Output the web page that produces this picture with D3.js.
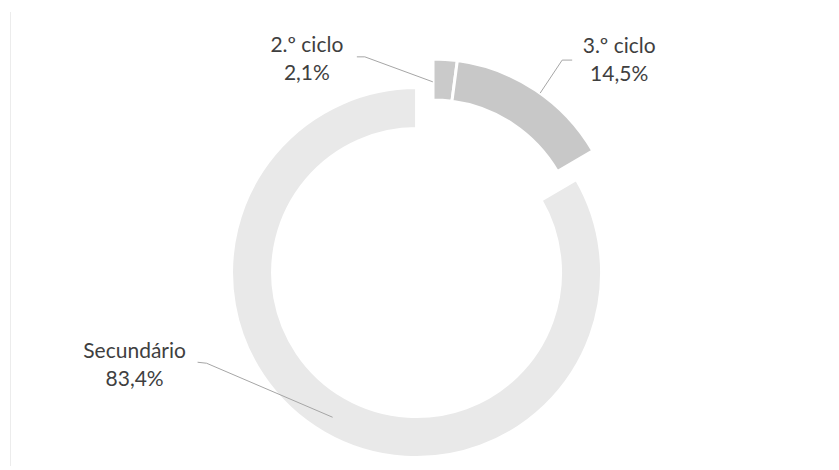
<!DOCTYPE html>
<html>
<head>
<meta charset="utf-8">
<script src="https://cdn.jsdelivr.net/npm/d3@7/dist/d3.min.js"></script>
<style>
  body { margin: 0; background: #fff; }
  svg { display: block; }
  text { font-family: Lato, "Open Sans", sans-serif; fill: #3f3f3f; }
</style>
</head>
<body>
<svg id="chart"></svg>
<script>
// Data (percent of total)
const categories = ["2.º ciclo", "3.º ciclo", "Secundário"];
const values = [2.1, 14.5, 83.4];
const valueLabels = ["2,1%", "14,5%", "83,4%"];

const width = 839;
const height = 470;
const cx = 433, cy = 244;
const outerR = 185, innerR = 144;

const color = d3.scaleOrdinal()
    .domain(categories)
    .range(["#cacaca", "#c8c8c8", "#e9e9e9"]);

// Secundário is pulled out of the ring in Excel ("point explosion")
const explode = d3.scaleOrdinal().domain(categories).range([0, 0, 33]);

// Label placement relative to each slice centroid: text (dx, dy) and leader elbow
const labelOffset = {
    "2.º ciclo": { tx: -137, ty: -28, line: [[-87, -23], [-79, -23], [-11, 2]] },
    "3.º ciclo": { tx: 95, ty: -54, line: [[48, -47], [38, -47], [16, -14]] },
    "Secundário": { tx: -200, ty: -57, line: [[-137, -53], [-128, -52], [-2, 2]] }
};

const svg = d3.select("#chart").attr("width", width).attr("height", height);

// faint chart-area border on the left
svg.append("line")
    .attr("x1", 10.5).attr("x2", 10.5).attr("y1", 12).attr("y2", 466)
    .attr("stroke", "#ececec").attr("stroke-width", 1);

const pie = d3.pie().sort(null).value((d) => d.value);
const arc = d3.arc().innerRadius(innerR).outerRadius(outerR);

const data = categories.map((c, i) => ({ name: c, value: values[i], label: valueLabels[i] }));
const arcs = pie(data);

function shift(d) {
    const mid = (d.startAngle + d.endAngle) / 2;
    const e = explode(d.data.name);
    return [Math.sin(mid) * e, -Math.cos(mid) * e];
}

const g = svg.append("g").attr("transform", `translate(${cx},${cy})`);

g.selectAll("path.slice")
    .data(arcs)
    .enter()
    .append("path")
    .attr("class", "slice")
    .attr("d", arc)
    .attr("transform", (d) => `translate(${shift(d)})`)
    .attr("fill", (d) => color(d.data.name))
    .attr("stroke", "#fff")
    .attr("stroke-width", 3);

// Leader lines and labels
arcs.forEach((d) => {
    const [sx, sy] = shift(d);
    const [mx, my] = arc.centroid(d);
    const px = mx + sx, py = my + sy;
    const o = labelOffset[d.data.name];

    g.append("path")
        .attr("d", d3.line()(o.line.map(([x, y]) => [px + x, py + y])))
        .attr("fill", "none")
        .attr("stroke", "#a6a6a6")
        .attr("stroke-width", 1);

    const t = g.append("text")
        .attr("x", px + o.tx)
        .attr("y", py + o.ty)
        .attr("text-anchor", "middle")
        .style("font-size", "21px");
    t.append("tspan").attr("x", px + o.tx).text(d.data.name);
    t.append("tspan").attr("x", px + o.tx).attr("dy", 28).text(d.data.label);
});
</script>
</body>
</html>
